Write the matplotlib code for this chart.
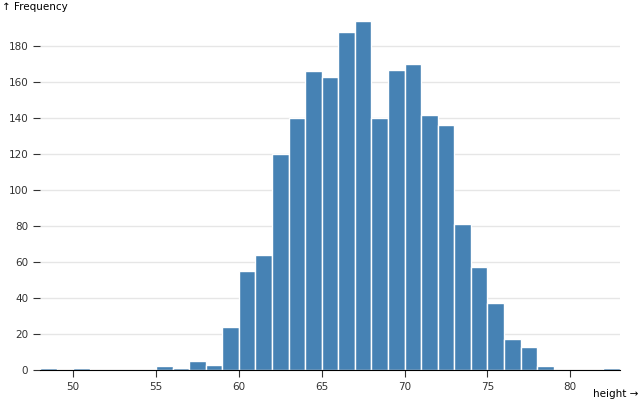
import numpy as np
import matplotlib.pyplot as plt

# histogram of height, bin width 1
bin_edges = np.arange(48, 84, 1)
counts = [1, 0, 1, 0, 0, 0, 0, 2, 1, 5, 3, 24, 55, 64, 120, 140, 166, 163,
          188, 194, 140, 167, 170, 142, 136, 81, 57, 37, 17, 13, 2, 0, 0, 0, 1]

fig = plt.figure(figsize=(6.4, 4.0), dpi=100)
ax = fig.add_axes([40/640, 30/400, 580/640, 349/400])

ax.bar(bin_edges[:-1], counts, width=1, align='edge', color='steelblue',
       edgecolor='white', linewidth=1, zorder=2)

ax.set_xlim(48, 83)
ax.set_ylim(0, 194)
ax.set_yticks(np.arange(0, 181, 20))
ax.set_xticks(np.arange(50, 81, 5))
ax.grid(axis='y', color='#e6e6e6', linewidth=1, zorder=0)
for s in ['left', 'right', 'top']:
    ax.spines[s].set_visible(False)
ax.spines['bottom'].set_color('black')
ax.tick_params(axis='both', labelsize=7.5, colors='#333333', length=5)
ax.tick_params(axis='x', length=5)

fig.text(2/640, 1 - 7/400, '↑ Frequency', fontsize=7.5, va='center', ha='left')
fig.text(638/640, 1 - 394/400, 'height →', fontsize=7.5, va='center', ha='right')

fig.savefig('out.png', dpi=100)
